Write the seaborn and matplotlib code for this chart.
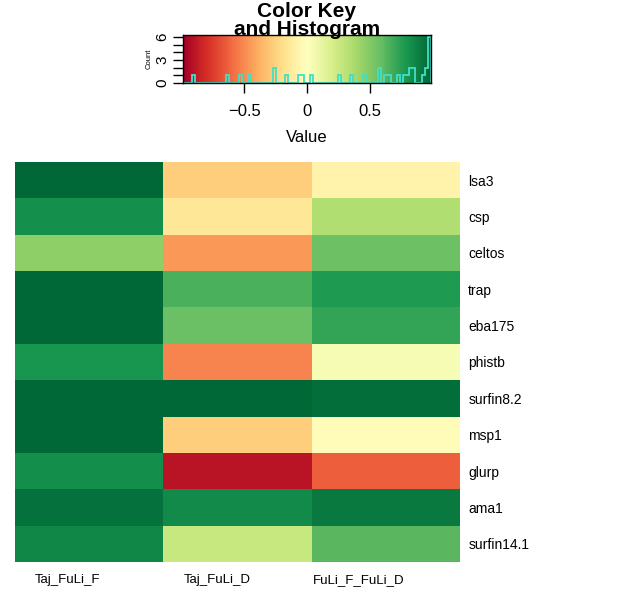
import numpy as np
import pandas as pd
import matplotlib.pyplot as plt
import seaborn as sns

# data
genes = ["lsa3", "csp", "celtos", "trap", "eba175", "phistb",
         "surfin8.2", "msp1", "glurp", "ama1", "surfin14.1"]
samples = ["Taj_FuLi_F", "Taj_FuLi_D", "FuLi_F_FuLi_D"]
taj_fuli_f = [0.99, 0.82, 0.47, 0.99, 0.99, 0.80, 0.99, 0.99, 0.83, 0.95, 0.86]
taj_fuli_d = [-0.27, -0.15, -0.46, 0.66, 0.58, -0.52, 0.99, -0.27, -0.91, 0.85, 0.27]
fuli_f_fuli_d = [-0.07, 0.35, 0.57, 0.78, 0.72, 0.04, 0.96, -0.03, -0.64, 0.92, 0.62]

key_lim = 0.99
key_ticks = [-0.5, 0, 0.5]
count_ticks = [0, 1, 2, 3, 4, 5, 6]
count_labels = ["0", "", "", "3", "", "", "6"]
col_label_pos = [0.135, 1.14, 2.01]

sns.set_style("white")
plt.rcParams['font.family'] = ['Liberation Sans', 'DejaVu Sans']
plt.rcParams['text.color'] = 'black'
plt.rcParams['axes.labelcolor'] = 'black'
plt.rcParams['xtick.color'] = 'black'
plt.rcParams['ytick.color'] = 'black'
narrow = ['Liberation Sans Narrow', 'Liberation Sans', 'DejaVu Sans']

df = pd.DataFrame({samples[0]: taj_fuli_f,
                   samples[1]: taj_fuli_d,
                   samples[2]: fuli_f_fuli_d}, index=genes)

fig = plt.figure(figsize=(6.22, 5.95), dpi=100)
ax_key = fig.add_axes([0.2942, 0.8605, 0.3987, 0.0807])
ax = fig.add_axes([0.0241, 0.0555, 0.7154, 0.6723])

# main heatmap
sns.heatmap(df, cmap="RdYlGn", vmin=-key_lim, vmax=key_lim, cbar=False, ax=ax)
ax.yaxis.tick_right()
ax.set_yticklabels(genes, rotation=0, ha='left', fontsize=10, family=narrow)
ax.set_xticks(col_label_pos)
ax.set_xticklabels(samples, rotation=0, ha='left', fontsize=9.5, family=narrow)
ax.tick_params(axis='both', length=0)
ax.tick_params(axis='y', pad=6)
ax.tick_params(axis='x', pad=9)
ax.set_xlabel("")
ax.set_ylabel("")

# color key + histogram
vals = df.values.ravel()
edges = np.linspace(-key_lim, key_lim, 81)
counts, _ = np.histogram(vals, bins=edges)
grad = np.linspace(-key_lim, key_lim, 256)[None, :]
ax_key.imshow(grad, cmap="RdYlGn", aspect="auto", vmin=-key_lim, vmax=key_lim,
              extent=[-key_lim, key_lim, 0, 6.25], interpolation="nearest")
ax_key.stairs(counts, edges, color="#40e0c8", lw=1.3)
ax_key.set_xlim(-key_lim, key_lim)
ax_key.set_ylim(0, 6.25)
ax_key.set_xticks(key_ticks)
ax_key.set_xticklabels(["\u22120.5", "0", "0.5"], fontsize=12)
ax_key.set_yticks(count_ticks)
ax_key.set_yticklabels(count_labels, rotation=90, va='center', fontsize=11)
ax_key.tick_params(axis='x', length=7, width=1, pad=8, direction='out', bottom=True)
ax_key.tick_params(axis='y', length=7, width=1, pad=3, direction='out', left=True)
ax_key.set_xlabel("Value", fontsize=12, labelpad=8)
ax_key.set_ylabel("Count", fontsize=5.5, labelpad=2)
for s in ax_key.spines.values():
    s.set_visible(True)
    s.set_color("black")
    s.set_linewidth(1)
ax_key.text(0.5, 0.92, "Color Key\nand Histogram", transform=ax_key.transAxes,
            ha='center', va='bottom', fontsize=15, fontweight='bold',
            linespacing=0.9)

plt.savefig("out.png", dpi=100)
